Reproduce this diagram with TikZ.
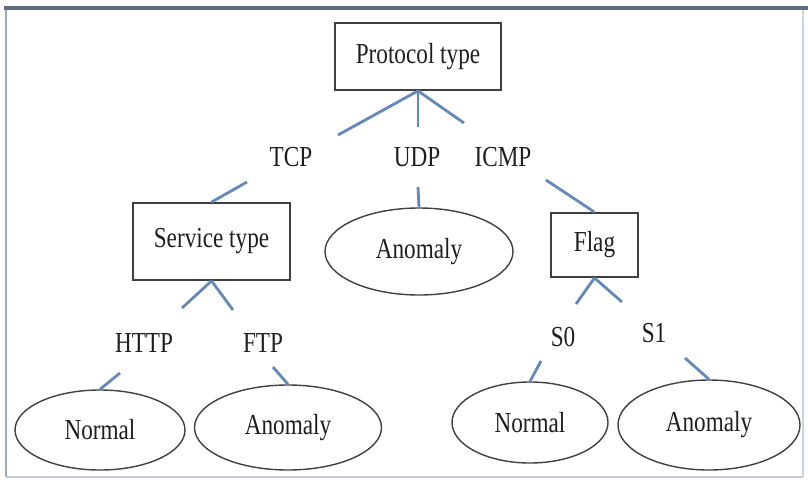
\documentclass[tikz,border=0pt]{standalone}
\usepackage{fontspec}
\setmainfont{Liberation Serif}[FakeStretch=0.8]
\usetikzlibrary{shapes.geometric}

\definecolor{edgeblue}{RGB}{98,137,186}
\definecolor{framedark}{RGB}{92,110,128}
\definecolor{framelight}{RGB}{150,170,190}
\definecolor{inkgray}{RGB}{30,30,30}

\tikzset{
  every node/.style={font=\fontsize{29}{34}\selectfont, text=inkgray},
  testbox/.style={draw=inkgray!85, line width=1.8pt, rectangle, inner sep=0pt},
  leafoval/.style={draw=inkgray!85, line width=1.4pt, ellipse, inner sep=0pt},
  branchlabel/.style={inner sep=0pt},
  edge/.style={draw=edgeblue, line width=2.8pt}
}

\begin{document}
\begin{tikzpicture}[x=1pt, y=-1pt]
  \useasboundingbox (0,0) rectangle (808,482);

  % outer frame
  \draw[framelight, line width=1.6pt] (6,8) -- (6,477);
  \draw[framelight!60, line width=1.2pt] (6,477) -- (803,477);
  \draw[framelight!50, line width=1.2pt] (803,8) -- (803,477);
  \draw[framedark, line width=3.5pt] (4,8) -- (808,8);

  % decision nodes
  \node[testbox, minimum width=166pt, minimum height=67pt] (proto) at (418,56.5) {Protocol type};
  \node[testbox, minimum width=157pt, minimum height=77pt] (svc) at (211.5,241.5) {Service type};
  \node[testbox, minimum width=87pt, minimum height=64pt] (flag) at (594.5,245) {Flag};

  % leaves
  \node[leafoval, minimum width=188pt, minimum height=87pt] (udpleaf) at (419,251.5) {Anomaly};
  \node[leafoval, minimum width=170pt, minimum height=80pt] (norm1) at (100,430) {Normal};
  \node[leafoval, minimum width=187pt, minimum height=85pt] (anom1) at (288,427.5) {Anomaly};
  \node[leafoval, minimum width=156pt, minimum height=81pt] (norm2) at (530,422.5) {Normal};
  \node[leafoval, minimum width=182pt, minimum height=90pt] (anom2) at (709,425) {Anomaly};

  % branch values
  \node[branchlabel] (tcp)  at (291,157) {TCP};
  \node[branchlabel] (udp)  at (417,157) {UDP};
  \node[branchlabel] (icmp) at (503,157) {ICMP};
  \node[branchlabel] (http) at (144,343) {HTTP};
  \node[branchlabel] (ftp)  at (263,343) {FTP};
  \node[branchlabel] (szero) at (563,337) {S0};
  \node[branchlabel] (sone)  at (654,333) {S1};

  % free ends of the branch strokes
  \coordinate (a1) at (338,135);
  \coordinate (a2) at (418,127);
  \coordinate (a3) at (464,123);
  \coordinate (b1) at (247,182);
  \coordinate (b2) at (418,187);
  \coordinate (b3) at (546,180);
  \coordinate (c1) at (182,308);
  \coordinate (c2) at (233,310);
  \coordinate (d1) at (120,373);
  \coordinate (d2) at (273,367);
  \coordinate (e1) at (576,304);
  \coordinate (e2) at (622,302);
  \coordinate (f1) at (541,361);
  \coordinate (f2) at (685,358);

  % branch strokes
  \draw[edge] (proto.south) -- (a1);
  \draw[edge] (proto.south) -- (a2);
  \draw[edge] (proto.south) -- (a3);
  \draw[edge] (b1) -- (svc.north);
  \draw[edge] (b2) -- (udpleaf.north);
  \draw[edge] (b3) -- (flag.north);
  \draw[edge] (svc.south) -- (c1);
  \draw[edge] (svc.south) -- (c2);
  \draw[edge] (d1) -- (norm1.north);
  \draw[edge] (d2) -- (anom1.north);
  \draw[edge] (flag.south) -- (e1);
  \draw[edge] (flag.south) -- (e2);
  \draw[edge] (f1) -- (norm2.north);
  \draw[edge] (f2) -- (anom2.north);
\end{tikzpicture}
\end{document}
